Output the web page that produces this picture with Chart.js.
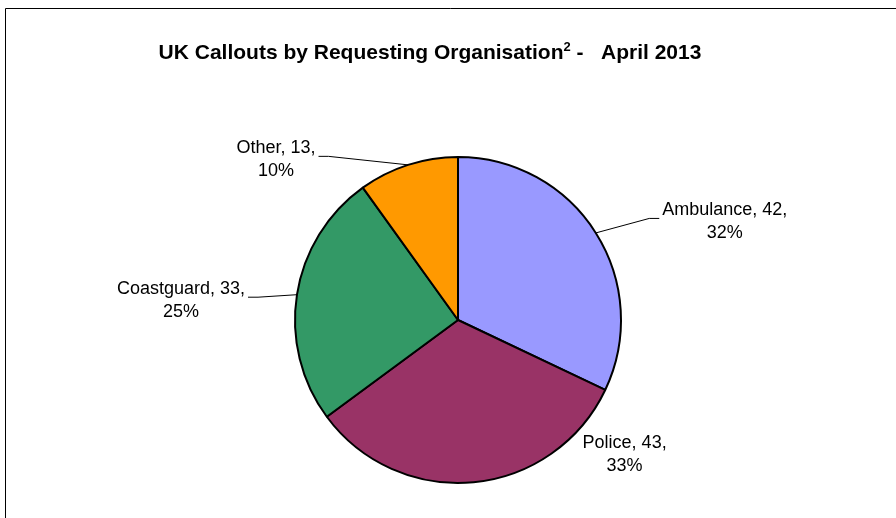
<!DOCTYPE html>
<html>
<head>
<meta charset="utf-8">
<title>UK Callouts by Requesting Organisation - April 2013</title>
<script src="https://cdn.jsdelivr.net/npm/chart.js@4.4.1/dist/chart.umd.min.js"></script>
<style>
  html, body { margin: 0; padding: 0; background: #fff; }
  #wrap { width: 896px; height: 518px; }
</style>
</head>
<body>
<div id="wrap"><canvas id="pie" width="896" height="518"></canvas></div>
<script>
// data
const categories = ['Ambulance', 'Police', 'Coastguard', 'Other'];
const callouts = [42, 43, 33, 13];
const sliceColours = ['#9999FF', '#993366', '#339966', '#FF9900'];

// where each data label sits, relative to the point on the rim at the slice middle
const labelOffsets = [[129, -11], [151, -28], [-116, 6], [-132, -5]];
const labelLeaders = [true, false, true, true];

const labelFont = '18px "Liberation Sans", Arial, sans-serif';
const titleFont = 'bold 21px "Liberation Sans", Arial, sans-serif';
const supFont = 'bold 13px "Liberation Sans", Arial, sans-serif';

const frame = {
  id: 'frame',
  beforeDraw(chart) {
    const ctx = chart.ctx;
    ctx.save();
    ctx.fillStyle = '#fff';
    ctx.fillRect(0, 0, chart.width, chart.height);
    ctx.strokeStyle = '#000';
    ctx.lineWidth = 1;
    ctx.beginPath();
    ctx.moveTo(5.5, chart.height);
    ctx.lineTo(5.5, 8.5);
    ctx.lineTo(chart.width, 8.5);
    ctx.stroke();
    ctx.restore();
  }
};

const titleWithSup = {
  id: 'titleWithSup',
  afterDraw(chart) {
    const ctx = chart.ctx;
    const parts = [
      { t: 'UK Callouts by Requesting Organisation', f: titleFont, dy: 0 },
      { t: '2', f: supFont, dy: -8 },
      { t: ' -   April 2013', f: titleFont, dy: 0 }
    ];
    ctx.save();
    ctx.fillStyle = '#000';
    ctx.textBaseline = 'alphabetic';
    let total = 0;
    parts.forEach(p => { ctx.font = p.f; p.w = ctx.measureText(p.t).width; total += p.w; });
    let x = 430 - total / 2;
    const y = 59;
    parts.forEach(p => {
      ctx.font = p.f;
      ctx.fillText(p.t, x, y + p.dy);
      x += p.w;
    });
    ctx.restore();
  }
};

const sliceLabels = {
  id: 'sliceLabels',
  afterDatasetsDraw(chart) {
    const ctx = chart.ctx;
    const meta = chart.getDatasetMeta(0);
    const data = chart.data.datasets[0].data;
    const sum = data.reduce((a, b) => a + b, 0);
    const lineH = 23;
    ctx.save();
    ctx.font = labelFont;
    ctx.fillStyle = '#000';
    ctx.strokeStyle = '#000';
    ctx.lineWidth = 1;
    ctx.textAlign = 'center';
    ctx.textBaseline = 'middle';
    meta.data.forEach((arc, i) => {
      const p = arc.getProps(['x', 'y', 'startAngle', 'endAngle', 'outerRadius'], true);
      const mid = (p.startAngle + p.endAngle) / 2;
      const ax = p.x + Math.cos(mid) * p.outerRadius;
      const ay = p.y + Math.sin(mid) * p.outerRadius;
      const cx = ax + labelOffsets[i][0];
      const cy = ay + labelOffsets[i][1];
      const line1 = chart.data.labels[i] + ', ' + data[i] + ',';
      const line2 = Math.round(data[i] / sum * 100) + '%';
      const y1 = cy - lineH / 2;
      const y2 = cy + lineH / 2;
      ctx.fillText(line1, cx, y1);
      ctx.fillText(line2, cx, y2);
      if (labelLeaders[i]) {
        const w = ctx.measureText(line1).width;
        const side = cx > ax ? -1 : 1;
        const ex = cx + side * (w / 2 + 3);
        const ey = y1 + 8;
        ctx.beginPath();
        ctx.moveTo(ex, ey);
        ctx.lineTo(ex + side * 10, ey);
        ctx.lineTo(ax, ay);
        ctx.stroke();
      }
    });
    ctx.restore();
  }
};

new Chart(document.getElementById('pie'), {
  type: 'pie',
  data: {
    labels: categories,
    datasets: [{
      data: callouts,
      backgroundColor: sliceColours,
      borderColor: '#000',
      borderWidth: 2
    }]
  },
  options: {
    responsive: false,
    animation: false,
    devicePixelRatio: 1,
    layout: { padding: { left: 294, right: 274, top: 156, bottom: 34 } },
    plugins: {
      legend: { display: false },
      tooltip: { enabled: false },
      title: { display: false }
    }
  },
  plugins: [frame, titleWithSup, sliceLabels]
});
</script>
</body>
</html>
